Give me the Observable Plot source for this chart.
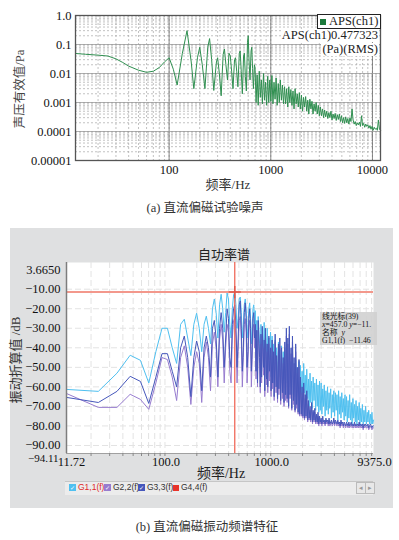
<!DOCTYPE html>
<html><head><meta charset="utf-8">
<script src="https://cdn.jsdelivr.net/npm/d3@7"></script>
<script src="https://cdn.jsdelivr.net/npm/@observablehq/plot@0.6"></script>
<style>
body{margin:0;background:#fff;}
#wrap{position:relative;width:399px;height:540px;overflow:hidden;font-family:"Liberation Serif","Noto Sans CJK SC",serif;color:#222;}
.abs{position:absolute;white-space:nowrap;line-height:1;}
</style></head><body><div id="wrap"></div>
<script>
// ---------- (a) acoustic spectrum APS(ch1), Pa RMS ----------
const apsLowFreq = [12,15,20,25,30,35,40,50,60,70,80,90,100,110,120,135,150,165,175,190,200,212,225,240,250,262,275,292,300,312,325,340,350,362,375,388,400,412,425,440,450,462,475,490,500,512,525,540,550,562,575,590,600,612,625,640,650,662,675,690];
const apsLowVal = [0.049,0.046,0.043,0.04,0.032,0.024,0.018,0.013,0.011,0.012,0.016,0.025,0.035,0.014,0.004,0.05,0.3,0.025,0.003,0.035,0.08,0.02,0.003,0.08,0.16,0.03,0.0026,0.025,0.035,0.01,0.0017,0.045,0.07,0.02,0.006,0.05,0.04,0.012,0.003,0.03,0.035,0.012,0.0035,0.05,0.06,0.012,0.002,0.04,0.05,0.008,0.0025,0.12,0.2,0.025,0.006,0.06,0.08,0.015,0.003,0.02];
const apsHighStart = 700, apsHighEnd = 12000;
const apsHighVal = [
 0.016,0.001,0.009,0.0008,0.012,0.0015,0.006,0.0009,0.01,0.0012,0.005,0.0008,0.008,0.001,
 0.006,0.0011,0.0085,0.0009,0.005,0.0013,0.007,0.0008,0.0045,0.001,0.006,0.0012,0.004,0.0009,0.0035,
 0.0009,0.003,0.0007,0.0035,0.001,0.0028,0.0008,0.0025,0.0006,0.003,0.0009,0.002,0.0007,0.0022,
 0.0006,0.0018,0.0005,0.0015,0.0007,0.0016,0.0005,0.0012,0.0004,0.0013,0.0006,0.0011,0.0004,0.0009,0.0005,0.001,0.0004,0.0008,0.00035,0.0007,
 0.00035,0.0006,0.0003,0.00055,0.00032,0.0005,0.00028,0.00045,0.0003,0.0005,0.00025,0.0004,0.00028,0.00042,0.00024,0.00038,0.00026,0.0004,0.00022,
 0.00035,0.0002,0.0003,0.00019,0.00032,0.0002,0.00028,0.00018,0.0003,0.00022,0.0006,
 0.00025,0.00018,0.00022,0.00016,0.0002,0.00017,0.00021,0.00015,0.00035,0.00016,0.00019,0.00014,0.00018,0.00015,0.00017,
 0.00013,0.00016,0.00012,0.00015,0.00011,0.00014,0.00012,0.00013,0.00011,0.00025,0.00012,0.00011];
const apsXTicks = [100,1000,10000];
const apsYTicks = [1e-5,1e-4,1e-3,1e-2,1e-1,1];
const apsYTickLabels = ["0.00001","0.0001","0.001","0.01","0.1","1.0"];

// ---------- (b) vibration auto power spectrum, dB ----------
const binWidth = 11.71875;           // Hz per spectral line
const vibFreqMax = 9375.0;
const g1Low = [-61.3,-62.3,-53,-43.8,-46.4,-58,-42,-30,-30,-40,-48,-28,-25.4,-35,-44,-28,-22.3,-30,-42,-28,-23.8,-30,-38,-20,-15,-22,-35,-18,-12.6,-20,-32,-22,-11.9,-15,-28,-35,-20,-13,-11.46,-18,-30,-25,-15,-14,-22,-35,-28,-18,-15,-20,-35,-30,-20,-17,-25,-38,-30,-20,-18,-28];
const g2Low = [-63.4,-70.5,-70.5,-63.8,-66.4,-71.5,-58,-45,-46,-55,-67,-45,-39,-50,-69,-50,-42,-48,-68,-45,-37,-45,-62,-38,-32,-40,-60,-36,-28,-36,-58,-40,-28,-32,-52,-58,-35,-26,-25,-35,-58,-42,-26,-24,-36,-60,-45,-28,-25,-32,-58,-48,-30,-26,-36,-60,-46,-30,-28,-40];
const g3Low = [-65.4,-68,-62.3,-54.6,-57.2,-68.5,-55,-43,-43,-52,-60,-40,-34,-45,-65,-45,-36.5,-42,-62,-40,-34,-40,-55,-30,-26,-35,-55,-30,-22,-30,-50,-35,-20,-25,-45,-50,-28,-20,-18,-28,-50,-35,-18,-16,-30,-52,-40,-22,-17,-25,-50,-42,-25,-20,-30,-52,-40,-25,-22,-35];
const highBinStart = 61, highBinEnd = 800;
const g1High = [
 -21,-44,-26,-50,-24,-38,-47,-28,-52,-30,-45,-27,-55,-33,-48,-30,-53,-35,-46,-32,
 -55,-34,-50,-38,-58,-36,-52,-40,-60,-37,-55,-41,-58,-39,-62,-42,-56,-40,-60,
 -43,-58,-45,-62,-41,-60,-47,-64,-44,-59,-48,-65,-46,-61,-50,-63,-47,-66,
 -49,-64,-52,-67,-48,-63,-54,-69,-51,-66,-56,-70,-53,-68,-57,-71,-55,-67,-58,-72,-56,-70,-59,-73,-57,
 -72,-58,-74,-61,-70,-59,-75,-62,-72,-60,-74,-63,-71,-61,-76,-64,-73,-62,-75,-63,-72,-64,-77,-62,-74,-65,-76,-63,-73,-66,-77,-64,
 -75,-65,-78,-67,-76,-64,-77,-68,-79,-66,-76,-69,-78,-67,-79,-70,-77,-68,-79,-71,-78,-69,-79,-72,-78,-70,-79,-73,-78,-72,-79,-74,-79,-73,-79,-77];
const g2High = [
 -33,-56,-36,-60,-31,-48,-63,-38,-58,-34,-54,-40,-65,-35,-59,-42,-63,-38,-57,-44,
 -65,-40,-61,-46,-67,-37,-63,-47,-68,-42,-64,-39,-69,-44,-66,-48,-70,-41,-67,
 -34,-68,-38,-71,-33,-66,-43,-72,-37,-69,-48,-73,-42,-71,-53,-74,-50,-75,
 -58,-75,-63,-76,-61,-77,-66,-76,-65,-78,-69,-77,-72,-78,-70,-79,-73,-78,-73,-79,-75,-79,-75,-80,-76,
 -79,-77,-80,-77,-79,-78,-80,-77,-79,-78,-80,-77,-80,-79,-78,-80,-79,-77,-80,-78,-79,-80,-78,-80,-79,-81,-78,-80,-79,-81,-79,-80,
 -81,-79,-80,-81,-79,-81,-80,-79,-81,-80,-81,-79,-81,-80,-81,-80,-81,-79,-81,-80,-81,-80,-82,-80,-81,-80,-81,-81,-80,-82,-81,-80,-81,-82,-81,-81];
const g3High = [
 -28,-52,-31,-58,-26,-45,-60,-33,-55,-29,-50,-36,-62,-30,-56,-38,-60,-34,-52,-40,
 -62,-36,-58,-42,-65,-33,-60,-44,-66,-38,-61,-35,-67,-40,-63,-45,-68,-37,-64,
 -30,-66,-35,-70,-29,-64,-40,-71,-34,-67,-45,-72,-38,-69,-50,-73,-46,-74,
 -55,-74,-60,-75,-58,-76,-64,-75,-62,-77,-67,-76,-70,-77,-68,-78,-72,-77,-71,-78,-74,-78,-73,-79,-75,
 -78,-76,-79,-75,-78,-77,-79,-76,-78,-77,-79,-76,-79,-78,-77,-79,-78,-76,-79,-77,-78,-79,-77,-79,-78,-80,-77,-79,-78,-80,-78,-79,
 -80,-78,-79,-80,-78,-80,-79,-78,-80,-79,-80,-78,-80,-79,-80,-79,-80,-78,-80,-79,-80,-79,-81,-79,-80,-79,-80,-80,-79,-81,-80,-79,-80,-81,-80,-80];
const seriesNames = ["G1,1(f)","G2,2(f)","G3,3(f)","G4,4(f)"];
const seriesColors = ["#4fc0f0","#977ccf","#4657bb","#e8342a"];
const cursorHz = 457.0, cursorDb = -11.46, cursorIndex = 39;
const vibYTicks = [-90,-80,-70,-60,-50,-40,-30,-20,-10];
const vibXTicks = [binWidth,100,1000,vibFreqMax];

// ---------- build ----------
const wrap = document.getElementById("wrap");
function addDiv(html, css){const d=document.createElement("div");d.className="abs";d.innerHTML=html;Object.assign(d.style,css);wrap.appendChild(d);return d;}

const apsData = apsLowFreq.map((f,i)=>({f, v:apsLowVal[i]})).concat(
  apsHighVal.map((v,i)=>({f: apsHighStart*Math.pow(apsHighEnd/apsHighStart, i/(apsHighVal.length-1)), v})));

const topSvg = Plot.plot({
  width:399, height:195, marginLeft:75, marginRight:19, marginTop:15, marginBottom:35,
  style:{background:"white", fontFamily:"'Liberation Serif', serif", fontSize:"12.5px", color:"#111", overflow:"visible"},
  x:{type:"log", domain:[12,12000]},
  y:{type:"log", domain:[1e-5,1]},
  marks:[
    Plot.ruleX(d3.scaleLog().domain([12,12000]).ticks(), {stroke:"#a8a8a8", strokeWidth:0.7, strokeDasharray:"2,2"}),
    Plot.ruleY(d3.scaleLog().domain([1e-5,1]).ticks(), {stroke:"#a8a8a8", strokeWidth:0.7, strokeDasharray:"2,2"}),
    Plot.ruleX(apsXTicks, {stroke:"#6a6a6a", strokeWidth:0.8}),
    Plot.ruleY(apsYTicks, {stroke:"#9a9a9a", strokeWidth:0.8}),
    Plot.line(apsData, {x:"f", y:"v", stroke:"#2f8f50", strokeWidth:1}),
    Plot.frame({stroke:"#555", strokeWidth:1.3}),
    Plot.axisX(apsXTicks, {tickSize:0, tickPadding:5, tickFormat:d=>String(d), label:null}),
    Plot.axisY(apsYTicks, {tickSize:0, tickPadding:4, tickFormat:d=>apsYTickLabels[apsYTicks.indexOf(d)], label:null})
  ]
});
topSvg.style.position="absolute"; topSvg.style.left="0px"; topSvg.style.top="0px";
wrap.appendChild(topSvg);

// legend + readout (a)
addDiv('<span style="display:inline-block;width:6px;height:6px;background:#1d7a3c;margin:0 3px 1px 2px;vertical-align:middle"></span>APS(ch1)',
  {left:"317px", top:"14px", height:"13px", padding:"0 2px 0 0", border:"1px solid #222", background:"#fff", fontSize:"12.5px", lineHeight:"13px"});
addDiv('APS(ch1)0.477323', {right:"20px", top:"29px", fontSize:"12.5px", background:"#fff", padding:"0 1px"});
addDiv('(Pa)(RMS)', {right:"20px", top:"43px", fontSize:"12.5px", background:"#fff", padding:"0 1px"});
addDiv('声压有效值/Pa', {left:"20px", top:"89px", fontSize:"12.5px", color:"#444", transform:"translate(-50%,-50%) rotate(-90deg)"});
addDiv('频率/Hz', {left:"228px", top:"184px", fontSize:"13px", color:"#333", transform:"translate(-50%,-50%)"});
addDiv('(a)&nbsp;直流偏磁试验噪声', {left:"205px", top:"208px", fontSize:"12.5px", color:"#333", transform:"translate(-50%,-50%)"});

// ---------- (b) ----------
function series(low, high, name){
  const bins = high.map((_,i)=>Math.round(highBinStart*Math.pow(highBinEnd/highBinStart, i/(high.length-1))));
  return low.map((db,i)=>({f:(i+1)*binWidth, db, name})).concat(high.map((db,i)=>({f:bins[i]*binWidth, db, name})));
}
const vib = [series(g1Low,g1High,seriesNames[0]), series(g2Low,g2High,seriesNames[1]), series(g3Low,g3High,seriesNames[2])];
const fmtDb = d => (d<0?"−":"")+Math.abs(d).toFixed(2);
const fmtHz = d => d<50?d.toFixed(2):d.toFixed(1);
const xGrid = d3.scaleLog().domain([binWidth, vibFreqMax]).ticks();

const botSvg = Plot.plot({
  width:383, height:280, marginLeft:56, marginRight:20, marginTop:34, marginBottom:55,
  style:{background:"#dfe0e1", fontFamily:"'Liberation Serif', serif", fontSize:"12.5px", color:"#111", overflow:"visible"},
  x:{type:"log", domain:[binWidth, vibFreqMax]},
  y:{domain:[-94.11, 3.665]},
  marks:[
    Plot.frame({fill:"white", stroke:null}),
    Plot.ruleY(vibYTicks, {stroke:"#e3e3e3", strokeDasharray:"6,3"}),
    Plot.ruleX(xGrid, {stroke:"#e3e3e3", strokeDasharray:"6,3"}),
    Plot.line(vib[0], {x:"f", y:"db", stroke:seriesColors[0], strokeWidth:1}),
    Plot.line(vib[1], {x:"f", y:"db", stroke:seriesColors[1], strokeWidth:1}),
    Plot.line(vib[2], {x:"f", y:"db", stroke:seriesColors[2], strokeWidth:1}),
    Plot.ruleY([cursorDb], {stroke:"#f3988c", strokeWidth:2}),
    Plot.ruleX([cursorHz], {stroke:"#f06a5a", strokeWidth:1.3}),
    Plot.dot([{f:cursorHz, db:cursorDb}], {x:"f", y:"db", symbol:"plus", r:4, stroke:"#e0584a", strokeWidth:1.5}),
    Plot.ruleX([binWidth], {stroke:"#7d7d7d", strokeWidth:1.5}),
    Plot.ruleY([-94.11], {stroke:"#a0a0a0", strokeWidth:1}),
    Plot.axisX(xGrid, {tickSize:3, tickFormat:()=>"", stroke:"#888", label:null}),
    Plot.text([vibXTicks[0]], {x:d=>d, frameAnchor:"bottom", dy:12, dx:5, text:fmtHz}),
    Plot.text(vibXTicks.slice(1), {x:d=>d, frameAnchor:"bottom", dy:12, dx:1, text:fmtHz}),
    Plot.axisY(vibYTicks, {tickSize:0, tickPadding:6, tickFormat:fmtDb, label:null}),
    Plot.text([3.665], {y:d=>d, frameAnchor:"left", dx:-6, dy:7, textAnchor:"end", text:()=> "3.6650"}),
    Plot.text([-94.11], {y:d=>d, frameAnchor:"left", dx:-8, dy:5, textAnchor:"end", fontSize:11, text:d=>fmtDb(d)})
  ]
});
botSvg.style.position="absolute"; botSvg.style.left="10px"; botSvg.style.top="228px";
wrap.appendChild(botSvg);

addDiv('自功率谱', {left:"224px", top:"253px", fontSize:"13px", fontFamily:"'Noto Sans CJK SC',sans-serif", color:"#222", transform:"translate(-50%,-50%)"});
addDiv('振动折算值 /dB', {left:"15px", top:"360px", fontSize:"13px", color:"#333", transform:"translate(-50%,-50%) rotate(-90deg)"});
addDiv('频率/Hz', {left:"221px", top:"474px", fontSize:"14px", color:"#222", transform:"translate(-50%,-50%)"});

// legend strip
addDiv('', {left:"65px", top:"481px", width:"308px", height:"13px", background:"#ececec", borderTop:"1px solid #c6c6c6"});
const legX = [69,104,138,173];
seriesNames.forEach((n,i)=>{
  const box = i<3 ? `<span style="display:inline-block;width:7px;height:7px;background:${seriesColors[i]};color:#fff;font-size:6px;line-height:7px;text-align:center;vertical-align:middle;margin-right:2px;font-family:'DejaVu Sans'">✓</span>`
                  : `<span style="display:inline-block;width:6px;height:6px;background:${seriesColors[i]};vertical-align:middle;margin-right:2px"></span>`;
  addDiv(box+`<span style="color:${i===0?'#e02828':'#333'}">${n}</span>`, {left:legX[i]+"px", top:"483px", fontSize:"8.5px", fontFamily:"'Liberation Sans',sans-serif"});
});
addDiv('◂', {left:"356px", top:"482px", width:"8px", height:"10px", border:"1px solid #bbb", background:"#e8e8e8", fontSize:"7px", color:"#999", textAlign:"center", lineHeight:"10px"});
addDiv('▸', {left:"365px", top:"482px", width:"8px", height:"10px", border:"1px solid #bbb", background:"#e8e8e8", fontSize:"7px", color:"#999", textAlign:"center", lineHeight:"10px"});

// cursor readout box
addDiv(`线光标(${cursorIndex})<br><i>x</i>=${cursorHz.toFixed(1)} <i>y</i>=−11.<br>名称&nbsp;&nbsp;<i>y</i><br>${seriesNames[0]}&nbsp;&nbsp;−${Math.abs(cursorDb).toFixed(2)}`,
  {left:"320px", top:"312px", width:"57px", height:"33px", padding:"1px 0 0 2px", boxSizing:"border-box", background:"rgba(208,208,208,0.9)", fontSize:"7.8px", lineHeight:"8px", color:"#111"});

addDiv('(b)&nbsp;直流偏磁振动频谱特征', {left:"207px", top:"527px", fontSize:"12.5px", color:"#333", transform:"translate(-50%,-50%)"});
</script></body></html>
